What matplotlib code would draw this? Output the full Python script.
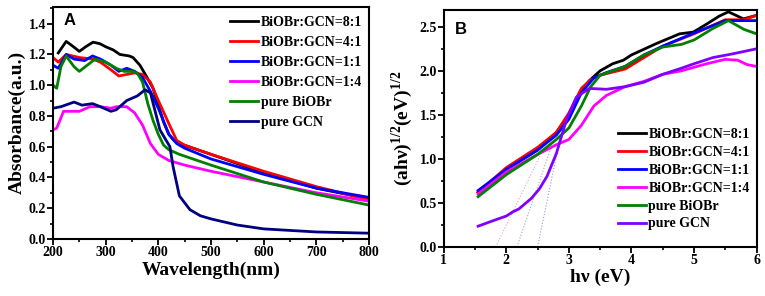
import matplotlib
matplotlib.use('Agg')
import matplotlib.pyplot as plt
import numpy as np
from matplotlib.ticker import MultipleLocator

plt.rcParams['font.family'] = 'Liberation Serif'
plt.rcParams['font.weight'] = 'bold'
plt.rcParams['mathtext.fontset'] = 'custom'
plt.rcParams['mathtext.rm'] = 'Liberation Serif:bold'

labels = ["BiOBr:GCN=8:1", "BiOBr:GCN=4:1", "BiOBr:GCN=1:1",
          "BiOBr:GCN=1:4", "pure BiOBr", "pure GCN"]
colors_a = ['#000000', '#ff0000', '#0000ff', '#ff00ff', '#007f00', '#000080']
colors_b = ['#000000', '#ff0000', '#0000ff', '#ff00ff', '#007f00', '#8000ff']

# panel A: absorbance vs wavelength
wl_81 = [210, 218, 225, 235, 250, 262, 276, 289, 300, 314, 327, 345, 352, 365, 377, 390, 400, 410, 420, 430, 440, 500, 600, 700, 800]
ab_81 = [1.21, 1.25, 1.285, 1.26, 1.22, 1.25, 1.28, 1.27, 1.25, 1.23, 1.20, 1.19, 1.18, 1.13, 1.06, 0.98, 0.87, 0.76, 0.68, 0.64, 0.62, 0.55, 0.43, 0.33, 0.26]
wl_41 = [200, 210, 225, 250, 275, 290, 310, 325, 340, 355, 370, 385, 400, 420, 435, 450, 500, 600, 700, 800]
ab_41 = [1.18, 1.15, 1.20, 1.18, 1.17, 1.15, 1.10, 1.06, 1.07, 1.08, 1.07, 1.02, 0.90, 0.75, 0.64, 0.61, 0.55, 0.44, 0.34, 0.255]
wl_11 = [200, 210, 225, 240, 260, 275, 290, 310, 325, 340, 355, 370, 385, 400, 420, 435, 450, 500, 600, 700, 800]
ab_11 = [1.13, 1.11, 1.20, 1.17, 1.16, 1.19, 1.17, 1.13, 1.09, 1.11, 1.09, 1.05, 0.96, 0.85, 0.68, 0.62, 0.59, 0.52, 0.42, 0.33, 0.27]
wl_14 = [200, 207, 220, 235, 250, 270, 290, 310, 320, 340, 355, 370, 385, 400, 420, 450, 500, 600, 700, 800]
ab_14 = [0.71, 0.72, 0.83, 0.83, 0.83, 0.86, 0.86, 0.85, 0.86, 0.86, 0.82, 0.74, 0.62, 0.55, 0.51, 0.48, 0.44, 0.37, 0.30, 0.245]
wl_bi = [200, 207, 215, 225, 240, 250, 265, 280, 300, 320, 335, 350, 360, 370, 380, 390, 400, 410, 420, 440, 500, 600, 700, 800]
ab_bi = [1.00, 0.98, 1.12, 1.19, 1.12, 1.09, 1.13, 1.17, 1.15, 1.11, 1.09, 1.09, 1.08, 1.02, 0.88, 0.77, 0.68, 0.61, 0.58, 0.55, 0.48, 0.37, 0.29, 0.22]
wl_gcn = [200, 215, 240, 255, 275, 290, 310, 320, 340, 360, 375, 385, 403, 415, 422, 428, 440, 460, 480, 500, 550, 600, 700, 800]
ab_gcn = [0.85, 0.86, 0.89, 0.87, 0.88, 0.86, 0.83, 0.84, 0.90, 0.93, 0.97, 0.95, 0.71, 0.64, 0.60, 0.47, 0.28, 0.19, 0.15, 0.13, 0.09, 0.065, 0.045, 0.037]

# panel B: Tauc plot
hv_81 = [1.55, 2.0, 2.5, 2.8, 2.9, 3.0, 3.1, 3.2, 3.33, 3.5, 3.7, 3.87, 4.0, 4.4, 4.77, 4.99, 5.2, 5.4, 5.55, 5.79, 6.0]
tc_81 = [0.62, 0.88, 1.10, 1.30, 1.40, 1.50, 1.65, 1.78, 1.89, 2.00, 2.08, 2.12, 2.18, 2.31, 2.42, 2.44, 2.53, 2.62, 2.67, 2.59, 2.63]
hv_41 = [1.55, 2.0, 2.5, 2.8, 3.0, 3.2, 3.35, 3.5, 3.9, 4.2, 4.5, 5.0, 5.5, 5.8, 6.0]
tc_41 = [0.62, 0.90, 1.13, 1.30, 1.52, 1.80, 1.90, 1.95, 2.02, 2.15, 2.28, 2.42, 2.58, 2.58, 2.63]
hv_11 = [1.55, 2.0, 2.5, 2.8, 3.0, 3.2, 3.4, 3.6, 3.9, 4.2, 4.5, 5.0, 5.5, 6.0]
tc_11 = [0.64, 0.88, 1.10, 1.27, 1.45, 1.75, 1.92, 1.98, 2.05, 2.18, 2.28, 2.43, 2.57, 2.57]
hv_14 = [1.55, 2.0, 2.5, 2.8, 3.0, 3.2, 3.4, 3.6, 3.9, 4.2, 4.5, 4.8, 5.2, 5.5, 5.7, 5.85, 6.0]
tc_14 = [0.60, 0.85, 1.05, 1.16, 1.22, 1.38, 1.60, 1.72, 1.82, 1.88, 1.96, 2.00, 2.08, 2.13, 2.12, 2.07, 2.05]
hv_bi = [1.55, 2.0, 2.5, 2.8, 3.0, 3.2, 3.35, 3.5, 3.9, 4.2, 4.5, 4.8, 5.0, 5.3, 5.55, 5.8, 6.0]
tc_bi = [0.57, 0.82, 1.05, 1.22, 1.35, 1.60, 1.82, 1.95, 2.05, 2.18, 2.27, 2.30, 2.35, 2.48, 2.57, 2.47, 2.42]
hv_gcn = [1.55, 1.8, 2.0, 2.11, 2.2, 2.4, 2.53, 2.65, 2.8, 2.96, 3.12, 3.33, 3.6, 3.9, 4.2, 4.5, 4.8, 5.0, 5.3, 5.6, 6.0]
tc_gcn = [0.235, 0.30, 0.35, 0.40, 0.43, 0.55, 0.66, 0.80, 1.06, 1.44, 1.70, 1.80, 1.79, 1.82, 1.87, 1.96, 2.03, 2.08, 2.15, 2.19, 2.25]

# tangent lines (band gap extrapolation)
tan_x = [[1.83, 2.55], [2.17, 2.75], [2.50, 2.85]]
tan_y = [[0.0, 1.05], [0.0, 1.20], [0.0, 1.20]]
tan_c = ['#e0a0d0', '#b0a0c0', '#a090e0']

fig = plt.figure(figsize=(7.65, 2.96), dpi=100)
ax1 = fig.add_axes([0.0693, 0.193, 0.413, 0.784])
ax2 = fig.add_axes([0.580, 0.166, 0.409, 0.800])

series_a = [(wl_81, ab_81), (wl_41, ab_41), (wl_11, ab_11), (wl_14, ab_14), (wl_bi, ab_bi), (wl_gcn, ab_gcn)]
for (x, y), c, lab in zip(series_a, colors_a, labels):
    ax1.plot(x, y, color=c, lw=2, label=lab)

for tx, ty, c in zip(tan_x, tan_y, tan_c):
    ax2.plot(tx, ty, color=c, lw=0.8, ls=':')
series_b = [(hv_81, tc_81), (hv_41, tc_41), (hv_11, tc_11), (hv_14, tc_14), (hv_bi, tc_bi), (hv_gcn, tc_gcn)]
for (x, y), c, lab in zip(series_b, colors_b, labels):
    ax2.plot(x, y, color=c, lw=2, label=lab)

ax1.set_xlim(200, 800)
ax1.set_ylim(0, 1.51)
ax1.xaxis.set_major_locator(MultipleLocator(100))
ax1.xaxis.set_minor_locator(MultipleLocator(50))
ax1.yaxis.set_major_locator(MultipleLocator(0.2))
ax1.yaxis.set_minor_locator(MultipleLocator(0.1))
ax1.set_xlabel("Wavelength(nm)", fontsize=14, fontweight='bold', labelpad=2)
ax1.set_ylabel("Absorbance(a.u.)", fontsize=14, fontweight='bold', labelpad=2)
ax1.text(0.035, 0.92, "A", transform=ax1.transAxes, fontsize=12,
         fontweight='bold', family='Liberation Sans')
ax1.legend(loc='upper right', frameon=False, fontsize=10, handlelength=2.0,
           handletextpad=0.2, labelspacing=0.5, borderaxespad=0.1,
           bbox_to_anchor=(1.0, 0.99))

ax2.set_xlim(1, 6)
ax2.set_ylim(0, 2.69)
ax2.xaxis.set_major_locator(MultipleLocator(1))
ax2.xaxis.set_minor_locator(MultipleLocator(0.5))
ax2.yaxis.set_major_locator(MultipleLocator(0.5))
ax2.yaxis.set_minor_locator(MultipleLocator(0.25))
ax2.set_xlabel("hν (eV)", fontsize=14, fontweight='bold', labelpad=1)
ax2.set_ylabel("(ahν)$^{1/2}$(eV)$^{1/2}$", fontsize=14, fontweight='bold', labelpad=3)
ax2.text(0.035, 0.9, "B", transform=ax2.transAxes, fontsize=12,
         fontweight='bold', family='Liberation Sans')
ax2.legend(loc='lower right', frameon=False, fontsize=10, handlelength=2.0,
           handletextpad=0.2, labelspacing=0.35, borderaxespad=0.1,
           bbox_to_anchor=(1.0, 0.04))

for ax in (ax1, ax2):
    for s in ax.spines.values():
        s.set_linewidth(1.5)
    ax.tick_params(which='major', direction='out', length=4, width=1.3,
                   labelsize=10, pad=1)
    ax.tick_params(which='minor', direction='out', length=2.5, width=1.2)
    for t in ax.get_xticklabels() + ax.get_yticklabels():
        t.set_fontweight('bold')

fig.savefig('out.png', dpi=100)
